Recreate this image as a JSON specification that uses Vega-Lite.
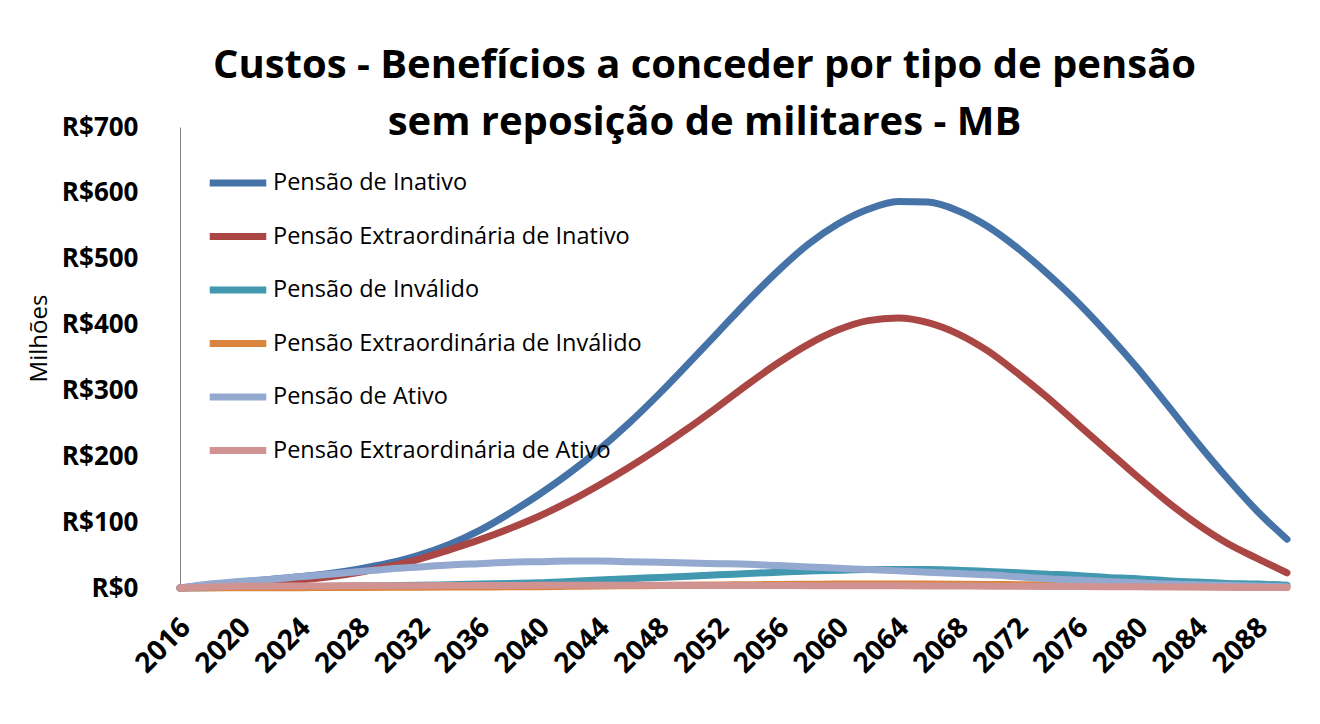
{
  "$schema": "https://vega.github.io/schema/vega-lite/v6.json",
  "width": 1107,
  "height": 461,
  "autosize": {"type": "none"},
  "padding": {"left": 180, "top": 127, "right": 33, "bottom": 136},
  "background": "white",
  "title": {
    "text": ["Custos - Benefícios a conceder por tipo de pensão", "sem reposição de militares - MB"],
    "font": "Open Sans",
    "fontSize": 40,
    "fontWeight": "bold",
    "color": "black",
    "lineHeight": 57,
    "anchor": "middle",
    "frame": "group",
    "dx": -29,
    "offset": -61,
    "baseline": "alphabetic"
  },
  "data": {
    "values": [
      {"ano": 2016, "Pensão de Inativo": 0, "Pensão Extraordinária de Inativo": 0, "Pensão de Inválido": 0, "Pensão Extraordinária de Inválido": 0, "Pensão de Ativo": 0, "Pensão Extraordinária de Ativo": 0},
      {"ano": 2018, "Pensão de Inativo": 5, "Pensão Extraordinária de Inativo": 3, "Pensão de Inválido": 0.5, "Pensão Extraordinária de Inválido": 0.2, "Pensão de Ativo": 6, "Pensão Extraordinária de Ativo": 1.5},
      {"ano": 2020, "Pensão de Inativo": 9, "Pensão Extraordinária de Inativo": 6, "Pensão de Inválido": 1, "Pensão Extraordinária de Inválido": 0.3, "Pensão de Ativo": 10, "Pensão Extraordinária de Ativo": 2.5},
      {"ano": 2022, "Pensão de Inativo": 13, "Pensão Extraordinária de Inativo": 9, "Pensão de Inválido": 1.5, "Pensão Extraordinária de Inválido": 0.4, "Pensão de Ativo": 13, "Pensão Extraordinária de Ativo": 2.8},
      {"ano": 2024, "Pensão de Inativo": 17, "Pensão Extraordinária de Inativo": 12, "Pensão de Inválido": 2, "Pensão Extraordinária de Inválido": 0.5, "Pensão de Ativo": 17, "Pensão Extraordinária de Ativo": 3},
      {"ano": 2026, "Pensão de Inativo": 22, "Pensão Extraordinária de Inativo": 17, "Pensão de Inválido": 2.5, "Pensão Extraordinária de Inválido": 0.7, "Pensão de Ativo": 21, "Pensão Extraordinária de Ativo": 3.2},
      {"ano": 2028, "Pensão de Inativo": 29, "Pensão Extraordinária de Inativo": 24, "Pensão de Inválido": 3, "Pensão Extraordinária de Inválido": 0.8, "Pensão de Ativo": 25, "Pensão Extraordinária de Ativo": 3.3},
      {"ano": 2030, "Pensão de Inativo": 38, "Pensão Extraordinária de Inativo": 33, "Pensão de Inválido": 3.5, "Pensão Extraordinária de Inválido": 1, "Pensão de Ativo": 29, "Pensão Extraordinária de Ativo": 3.5},
      {"ano": 2032, "Pensão de Inativo": 50, "Pensão Extraordinária de Inativo": 44, "Pensão de Inválido": 4, "Pensão Extraordinária de Inválido": 1.2, "Pensão de Ativo": 32, "Pensão Extraordinária de Ativo": 3.6},
      {"ano": 2034, "Pensão de Inativo": 66, "Pensão Extraordinária de Inativo": 58, "Pensão de Inválido": 5, "Pensão Extraordinária de Inválido": 1.4, "Pensão de Ativo": 35, "Pensão Extraordinária de Ativo": 3.7},
      {"ano": 2036, "Pensão de Inativo": 87, "Pensão Extraordinária de Inativo": 73, "Pensão de Inválido": 6, "Pensão Extraordinária de Inválido": 1.6, "Pensão de Ativo": 37, "Pensão Extraordinária de Ativo": 3.8},
      {"ano": 2038, "Pensão de Inativo": 113, "Pensão Extraordinária de Inativo": 90, "Pensão de Inválido": 7, "Pensão Extraordinária de Inválido": 1.8, "Pensão de Ativo": 39, "Pensão Extraordinária de Ativo": 3.9},
      {"ano": 2040, "Pensão de Inativo": 142, "Pensão Extraordinária de Inativo": 109, "Pensão de Inválido": 8, "Pensão Extraordinária de Inválido": 2, "Pensão de Ativo": 40, "Pensão Extraordinária de Ativo": 4},
      {"ano": 2042, "Pensão de Inativo": 174, "Pensão Extraordinária de Inativo": 131, "Pensão de Inválido": 10, "Pensão Extraordinária de Inválido": 2.5, "Pensão de Ativo": 41, "Pensão Extraordinária de Ativo": 4},
      {"ano": 2044, "Pensão de Inativo": 210, "Pensão Extraordinária de Inativo": 156, "Pensão de Inválido": 12, "Pensão Extraordinária de Inválido": 3, "Pensão de Ativo": 41, "Pensão Extraordinária de Ativo": 4},
      {"ano": 2046, "Pensão de Inativo": 250, "Pensão Extraordinária de Inativo": 183, "Pensão de Inválido": 14, "Pensão Extraordinária de Inválido": 3.4, "Pensão de Ativo": 40, "Pensão Extraordinária de Ativo": 4},
      {"ano": 2048, "Pensão de Inativo": 294, "Pensão Extraordinária de Inativo": 212, "Pensão de Inválido": 16, "Pensão Extraordinária de Inválido": 3.8, "Pensão de Ativo": 39, "Pensão Extraordinária de Ativo": 4},
      {"ano": 2050, "Pensão de Inativo": 341, "Pensão Extraordinária de Inativo": 243, "Pensão de Inválido": 18, "Pensão Extraordinária de Inválido": 4.2, "Pensão de Ativo": 38, "Pensão Extraordinária de Ativo": 4},
      {"ano": 2052, "Pensão de Inativo": 389, "Pensão Extraordinária de Inativo": 276, "Pensão de Inválido": 20, "Pensão Extraordinária de Inválido": 4.6, "Pensão de Ativo": 37, "Pensão Extraordinária de Ativo": 3.9},
      {"ano": 2054, "Pensão de Inativo": 437, "Pensão Extraordinária de Inativo": 310, "Pensão de Inválido": 22, "Pensão Extraordinária de Inválido": 5, "Pensão de Ativo": 36, "Pensão Extraordinária de Ativo": 3.8},
      {"ano": 2056, "Pensão de Inativo": 482, "Pensão Extraordinária de Inativo": 342, "Pensão de Inválido": 24, "Pensão Extraordinária de Inválido": 5.4, "Pensão de Ativo": 34, "Pensão Extraordinária de Ativo": 3.7},
      {"ano": 2058, "Pensão de Inativo": 522, "Pensão Extraordinária de Inativo": 370, "Pensão de Inválido": 26, "Pensão Extraordinária de Inválido": 5.7, "Pensão de Ativo": 32, "Pensão Extraordinária de Ativo": 3.6},
      {"ano": 2060, "Pensão de Inativo": 553, "Pensão Extraordinária de Inativo": 392, "Pensão de Inválido": 27, "Pensão Extraordinária de Inválido": 6, "Pensão de Ativo": 30, "Pensão Extraordinária de Ativo": 3.5},
      {"ano": 2062, "Pensão de Inativo": 575, "Pensão Extraordinária de Inativo": 406, "Pensão de Inválido": 28, "Pensão Extraordinária de Inválido": 6, "Pensão de Ativo": 28, "Pensão Extraordinária de Ativo": 3.4},
      {"ano": 2064, "Pensão de Inativo": 587, "Pensão Extraordinária de Inativo": 410, "Pensão de Inválido": 28, "Pensão Extraordinária de Inválido": 6, "Pensão de Ativo": 26, "Pensão Extraordinária de Ativo": 3.3},
      {"ano": 2066, "Pensão de Inativo": 586, "Pensão Extraordinária de Inativo": 403, "Pensão de Inválido": 28, "Pensão Extraordinária de Inválido": 6, "Pensão de Ativo": 24, "Pensão Extraordinária de Ativo": 3.2},
      {"ano": 2068, "Pensão de Inativo": 573, "Pensão Extraordinária de Inativo": 386, "Pensão de Inválido": 27, "Pensão Extraordinária de Inválido": 5.8, "Pensão de Ativo": 22, "Pensão Extraordinária de Ativo": 3},
      {"ano": 2070, "Pensão de Inativo": 549, "Pensão Extraordinária de Inativo": 360, "Pensão de Inválido": 25, "Pensão Extraordinária de Inválido": 5.5, "Pensão de Ativo": 20, "Pensão Extraordinária de Ativo": 2.8},
      {"ano": 2072, "Pensão de Inativo": 516, "Pensão Extraordinária de Inativo": 326, "Pensão de Inválido": 23, "Pensão Extraordinária de Inválido": 5, "Pensão de Ativo": 17, "Pensão Extraordinária de Ativo": 2.6},
      {"ano": 2074, "Pensão de Inativo": 477, "Pensão Extraordinária de Inativo": 289, "Pensão de Inválido": 21, "Pensão Extraordinária de Inválido": 4.5, "Pensão de Ativo": 14, "Pensão Extraordinária de Ativo": 2.4},
      {"ano": 2076, "Pensão de Inativo": 434, "Pensão Extraordinária de Inativo": 249, "Pensão de Inválido": 19, "Pensão Extraordinária de Inválido": 4, "Pensão de Ativo": 12, "Pensão Extraordinária de Ativo": 2.2},
      {"ano": 2078, "Pensão de Inativo": 386, "Pensão Extraordinária de Inativo": 209, "Pensão de Inválido": 16, "Pensão Extraordinária de Inválido": 3.5, "Pensão de Ativo": 10, "Pensão Extraordinária de Ativo": 2},
      {"ano": 2080, "Pensão de Inativo": 334, "Pensão Extraordinária de Inativo": 169, "Pensão de Inválido": 14, "Pensão Extraordinária de Inválido": 3, "Pensão de Ativo": 8, "Pensão Extraordinária de Ativo": 1.8},
      {"ano": 2082, "Pensão de Inativo": 278, "Pensão Extraordinária de Inativo": 131, "Pensão de Inválido": 11, "Pensão Extraordinária de Inválido": 2.5, "Pensão de Ativo": 6, "Pensão Extraordinária de Ativo": 1.6},
      {"ano": 2084, "Pensão de Inativo": 221, "Pensão Extraordinária de Inativo": 97, "Pensão de Inválido": 9, "Pensão Extraordinária de Inválido": 2, "Pensão de Ativo": 5, "Pensão Extraordinária de Ativo": 1.4},
      {"ano": 2086, "Pensão de Inativo": 167, "Pensão Extraordinária de Inativo": 68, "Pensão de Inválido": 7, "Pensão Extraordinária de Inválido": 1.5, "Pensão de Ativo": 4, "Pensão Extraordinária de Ativo": 1.2},
      {"ano": 2088, "Pensão de Inativo": 117, "Pensão Extraordinária de Inativo": 45, "Pensão de Inválido": 6, "Pensão Extraordinária de Inválido": 1, "Pensão de Ativo": 3, "Pensão Extraordinária de Ativo": 1},
      {"ano": 2090, "Pensão de Inativo": 74, "Pensão Extraordinária de Inativo": 23, "Pensão de Inválido": 4, "Pensão Extraordinária de Inválido": 0.8, "Pensão de Ativo": 2, "Pensão Extraordinária de Ativo": 0.8}
    ]
  },
  "transform": [
    {"fold": ["Pensão de Inativo", "Pensão Extraordinária de Inativo", "Pensão de Inválido", "Pensão Extraordinária de Inválido", "Pensão de Ativo", "Pensão Extraordinária de Ativo"], "as": ["serie", "valor"]}
  ],
  "mark": {"type": "line", "interpolate": "monotone", "strokeCap": "round", "strokeJoin": "round"},
  "encoding": {
    "x": {
      "field": "ano",
      "type": "quantitative",
      "scale": {"domain": [2016, 2090], "nice": false, "zero": false},
      "axis": {
        "values": [2016, 2020, 2024, 2028, 2032, 2036, 2040, 2044, 2048, 2052, 2056, 2060, 2064, 2068, 2072, 2076, 2080, 2084, 2088],
        "format": "d",
        "title": null,
        "grid": false,
        "ticks": false,
        "labelAngle": -45,
        "labelAlign": "right",
        "labelBaseline": "middle",
        "labelPadding": 35,
        "labelOffset": 6,
        "labelFlush": false,
        "labelOverlap": false,
        "labelFont": "Open Sans",
        "labelFontWeight": "bold",
        "labelFontSize": 28,
        "labelColor": "black",
        "domainColor": "#868686",
        "domainWidth": 1
      }
    },
    "y": {
      "field": "valor",
      "type": "quantitative",
      "scale": {"domain": [0, 700], "nice": false},
      "axis": {
        "values": [0, 100, 200, 300, 400, 500, 600, 700],
        "labelExpr": "'R$' + datum.label",
        "title": "Milhões",
        "titleFont": "Open Sans",
        "titleFontWeight": "normal",
        "titleFontSize": 24,
        "titleColor": "black",
        "titleX": -141,
        "titleY": 211,
        "titleAngle": -90,
        "titleAlign": "center",
        "titleBaseline": "middle",
        "grid": false,
        "ticks": false,
        "labelPadding": 42,
        "labelFlush": false,
        "labelFont": "Open Sans",
        "labelFontWeight": "bold",
        "labelFontSize": 26,
        "labelColor": "black",
        "domainColor": "#868686",
        "domainWidth": 1
      }
    },
    "color": {
      "field": "serie",
      "type": "nominal",
      "scale": {
        "domain": ["Pensão de Inativo", "Pensão Extraordinária de Inativo", "Pensão de Inválido", "Pensão Extraordinária de Inválido", "Pensão de Ativo", "Pensão Extraordinária de Ativo"],
        "range": ["#4572A7", "#AA4643", "#4198AF", "#DB843D", "#93A9CF", "#D19392"]
      },
      "legend": {
        "orient": "none",
        "legendX": 26,
        "legendY": 24,
        "title": null,
        "symbolType": "stroke",
        "symbolSize": 3200,
        "labelFont": "Open Sans",
        "labelFontSize": 23.5,
        "labelColor": "black",
        "labelOffset": 3,
        "rowPadding": 7.5,
        "labelLimit": 600
      }
    },
    "strokeWidth": {
      "field": "serie",
      "type": "nominal",
      "scale": {
        "domain": ["Pensão de Inativo", "Pensão Extraordinária de Inativo", "Pensão de Inválido", "Pensão Extraordinária de Inválido", "Pensão de Ativo", "Pensão Extraordinária de Ativo"],
        "range": [7, 7, 6, 6, 5, 5]
      }
    }
  },
  "config": {"view": {"stroke": null}}
}
